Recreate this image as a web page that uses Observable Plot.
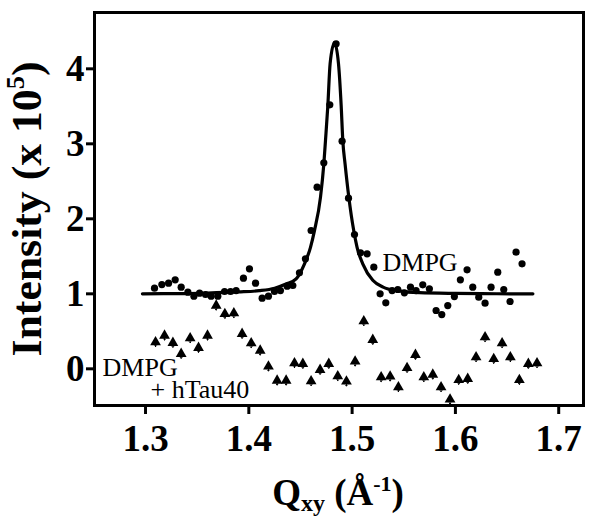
<!DOCTYPE html>
<html><head><meta charset="utf-8">
<script src="https://cdn.jsdelivr.net/npm/d3@7"></script>
<script src="https://cdn.jsdelivr.net/npm/@observablehq/plot@0.6"></script>
<style>
body{margin:0;background:#fff}
svg text{font-family:"Liberation Serif","Times New Roman",serif !important}
</style>
</head><body><div id="chart"></div>
<script>
// DMPG measured points (circles)
const dmpgQ = [1.3087,1.3158,1.3223,1.3287,1.3345,1.3410,1.3468,1.3523,1.3581,1.3635,1.3700,1.3765,1.3823,1.3877,1.3948,1.4006,1.4065,1.4129,1.4190,1.4248,1.4306,1.4371,1.4426,1.4490,1.4548,1.4603,1.4661,1.4726,1.4784,1.4845,1.4903,1.4965,1.5023,1.5081,1.5145,1.5210,1.5271,1.5326,1.5387,1.5442,1.5506,1.5565,1.5619,1.5684,1.5748,1.5813,1.5868,1.5926,1.5990,1.6048,1.6113,1.6168,1.6226,1.6287,1.6345,1.6410,1.6468,1.6529,1.6587,1.6645];
const dmpgI = [1.076,1.124,1.142,1.187,1.089,1.022,0.969,1.009,0.991,0.969,0.969,1.031,1.031,1.044,1.209,1.333,1.142,0.942,0.969,1.031,1.044,1.102,1.111,1.280,1.467,1.844,2.422,2.747,3.520,4.333,3.036,2.276,1.791,1.547,1.533,1.356,1.000,0.880,1.044,1.058,1.013,1.089,1.044,1.120,1.067,0.778,0.724,0.844,0.964,1.187,1.320,1.089,0.956,0.876,1.089,1.289,1.058,0.898,1.556,1.400];

// DMPG + hTau40 measured points (triangles)
const tauQ = [1.3097,1.3184,1.3265,1.3345,1.3432,1.3513,1.3600,1.3684,1.3768,1.3855,1.3935,1.4023,1.4110,1.4190,1.4274,1.4361,1.4442,1.4523,1.4603,1.4690,1.4774,1.4861,1.4945,1.5029,1.5113,1.5200,1.5281,1.5368,1.5448,1.5532,1.5613,1.5694,1.5781,1.5861,1.5948,1.6032,1.6119,1.6200,1.6287,1.6371,1.6452,1.6532,1.6619,1.6706,1.6790];
const tauI = [0.356,0.444,0.347,0.200,0.409,0.280,0.444,0.844,0.733,0.742,0.467,0.342,0.244,0.031,-0.156,-0.156,0.076,0.067,-0.164,-0.013,0.067,-0.098,-0.169,0.098,0.636,0.387,-0.111,-0.102,-0.244,0.013,0.187,-0.111,-0.076,-0.244,-0.409,-0.147,-0.133,0.156,0.422,0.133,0.342,0.156,-0.147,0.067,0.076];

// Fitted curve
const fitQ = [1.297,1.330,1.360,1.390,1.410,1.425,1.436,1.4458,1.4539,1.4597,1.4635,1.4694,1.4726,1.4742,1.4765,1.4787,1.4829,1.4868,1.4894,1.4910,1.4932,1.4968,1.5016,1.5048,1.5103,1.5200,1.530,1.545,1.565,1.600,1.640,1.675];
const fitI = [1.000,1.003,1.010,1.025,1.042,1.075,1.13,1.20,1.40,1.62,1.84,2.29,2.73,3.04,3.51,4.07,4.35,4.07,3.51,3.04,2.73,2.29,1.84,1.62,1.40,1.18,1.09,1.04,1.015,1.005,1.001,1.000];

const xTicks = [1.3,1.4,1.5,1.6,1.7];
const yTicks = [0,1,2,3,4];

const labelText = ["DMPG","DMPG","+ hTau40"];
const labelQ = [1.5294,1.2584,1.3048];
const labelI = [1.311,-0.089,-0.383];

const dmpg = dmpgQ.map((q,i)=>({q, v: dmpgI[i]}));
const tau = tauQ.map((q,i)=>({q, v: tauI[i]}));
const fit = fitQ.map((q,i)=>({q, v: fitI[i]}));
const labels = labelText.map((t,i)=>({t, q: labelQ[i], v: labelI[i]}));

const FONT = "Liberation Serif";

const plot = Plot.plot({
  width: 600, height: 519,
  marginLeft: 94, marginRight: 17, marginTop: 12, marginBottom: 114,
  x: {domain: [1.2506, 1.724]},
  y: {domain: [-0.489, 4.751]},
  style: {fontFamily: FONT, background: "white", color: "black", overflow: "visible"},
  marks: [
    Plot.axisX(xTicks, {tickSize: 9, tickPadding: 10, fontSize: 37, fontWeight: "bold", strokeWidth: 3, label: null, tickFormat: d3.format(".1f")}),
    Plot.axisY(yTicks, {tickSize: 8, tickPadding: 2, fontSize: 37, fontWeight: "bold", strokeWidth: 3, label: null, tickFormat: d3.format("d")}),
    Plot.frame({strokeWidth: 3, stroke: "black"}),
    Plot.line(fit, {x: "q", y: "v", curve: "monotone-x", strokeWidth: 3.2, stroke: "black"}),
    Plot.dot(dmpg, {x: "q", y: "v", r: 3.6, fill: "black", stroke: "none"}),
    Plot.vector(tau, {x: "q", y: "v", length: 4.5, rotate: 180, anchor: "start", strokeWidth: 1, stroke: "black"}),
    Plot.dot(tau, {x: "q", y: "v", symbol: "triangle", r: 4, fill: "black", stroke: "none"}),
    Plot.text(labels, {x: "q", y: "v", text: "t", textAnchor: "start", lineAnchor: "bottom", fontSize: 26, fill: "black"})
  ]
});
document.getElementById("chart").appendChild(plot);

const svg = d3.select(plot);
svg.selectAll("g[aria-label$='tick label'] text").attr("font-weight", "bold");

// y-axis title
const yt = svg.append("text")
  .attr("transform", "translate(41,209) rotate(-90)")
  .attr("text-anchor", "middle")
  .attr("font-size", 43).attr("font-weight", "bold").attr("fill", "black")
  .attr("textLength", 295).attr("lengthAdjust", "spacingAndGlyphs");
yt.append("tspan").text("Intensity (x 10");
yt.append("tspan").attr("font-size", 26).attr("dy", -17).text("5");
yt.append("tspan").attr("dy", 17).text(")");

// x-axis title
const xt = svg.append("text")
  .attr("x", 338).attr("y", 505)
  .attr("text-anchor", "middle")
  .attr("font-size", 37).attr("font-weight", "bold").attr("fill", "black");
xt.append("tspan").text("Q");
xt.append("tspan").attr("font-size", 24).attr("dy", 6).text("xy");
xt.append("tspan").attr("dy", -6).text(" (Å");
xt.append("tspan").attr("font-size", 22).attr("dy", -14).text("-1");
xt.append("tspan").attr("dy", 14).text(")");

svg.selectAll("text").attr("font-family", FONT);
</script>
</body></html>
